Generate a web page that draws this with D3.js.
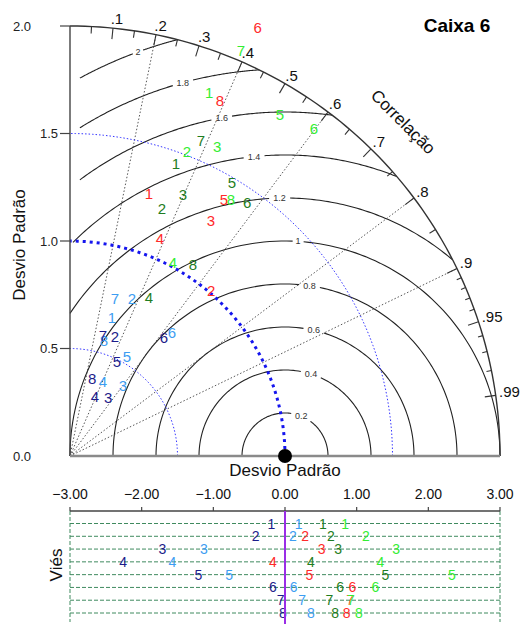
<!DOCTYPE html>
<html><head><meta charset="utf-8">
<script src="https://cdn.jsdelivr.net/npm/d3@7"></script>
<style>body{margin:0;background:#fff} svg{display:block} text{font-family:"Liberation Sans",Arial,Helvetica,sans-serif}</style>
</head><body><svg id="c" width="522" height="624"></svg>
<script>
// ---------------- data ----------------
const modelLabels = ["1","2","3","4","5","6","7","8"];
const seriesColors = ["#3d9df2","#1c1c8a","#ff2a2a","#1f7d22","#33ee33"]; // lightblue, navy, red, darkgreen, lime
// normalized standard deviation per model
const stdLightBlue = [0.671,0.789,0.409,0.377,0.535,0.743,0.764,0.562];
const stdNavy      = [null,0.596,0.323,0.302,0.489,0.702,0.583,0.373];
const stdRed       = [1.273,1.013,1.275,1.093,1.393,2.178,null,1.793];
const stdDarkGreen = [1.445,1.230,1.327,0.822,1.480,1.440,1.587,1.057];
const stdLime      = [1.812,1.515,1.592,1.021,1.863,1.898,2.045,1.407];
// correlation per model
const corrLightBlue = [0.291,0.365,0.603,0.407,0.495,0.638,0.274,0.281];
const corrNavy      = [null,0.351,0.548,0.385,0.447,0.623,0.263,0.275];
const corrRed       = [0.288,0.648,0.514,0.383,0.514,0.401,null,0.389];
const corrDarkGreen = [0.341,0.348,0.396,0.447,0.509,0.572,0.384,0.541];
const corrLime      = [0.357,0.359,0.430,0.469,0.524,0.598,0.389,0.532];
// bias per model
const biasLightBlue = [0.19,0.11,-1.13,-1.57,-0.78,0.12,0.24,0.36];
const biasNavy      = [-0.19,-0.41,-1.71,-2.26,-1.21,-0.17,-0.06,-0.03];
const biasRed       = [null,0.28,0.51,-0.17,0.34,0.94,0.91,0.86];
const biasDarkGreen = [0.53,0.64,0.74,0.36,1.40,0.77,0.62,0.70];
const biasLime      = [0.84,1.13,1.55,1.33,2.33,1.26,0.92,1.03];

const corrMajor = [0.1,0.2,0.3,0.4,0.5,0.6,0.7,0.8,0.9,0.95,0.99];
const corrLabels = [".1",".2",".3",".4",".5",".6",".7",".8",".9",".95",".99"];
const corrMinor = [0.05,0.15,0.25,0.35,0.45,0.55,0.65,0.75,0.85,0.91,0.92,0.93,0.94,0.96,0.97,0.98];
const corrRays = [0.2,0.4,0.6,0.8,0.9];
const rmsLevels = [0.2,0.4,0.6,0.8,1.0,1.2,1.4,1.6,1.8,2.0];
const rmsLabels = ["0.2","0.4","0.6","0.8","1","1.2","1.4","1.6","1.8","2"];
const stdTicks = [0,0.5,1,1.5,2];
const stdTickLabels = ["0.0","0.5","1.0","1.5","2.0"];
const thinStdCircles = [0.5,1.5];
const biasTicks = [-3,-2,-1,0,1,2,3];

// ---------------- drawing ----------------
const svg = d3.select("#c");
const ox = 70, oy = 456;
const S = d3.scaleLinear().domain([0,2]).range([0,430]);
const px = X => ox + S(X), py = Y => oy - S(Y);
const polar = (r,c) => { const th = Math.acos(c); return [px(r*Math.cos(th)), py(r*Math.sin(th))]; };
const line = d3.line();

// RMS contours
rmsLevels.forEach((rr,i)=>{
  const phiMin = rr<=1 ? 0 : Math.acos(Math.max(-1,Math.min(1,(3-rr*rr)/(2*rr))));
  const xmin = rr>=1.6 ? 0.046 : (rr>=1.4 ? 0.014 : 0);
  const phiMax = rr<1 ? Math.PI : Math.acos(Math.max(-1,(xmin-1)/rr));
  const phiL = (63+4.7*(i+1))*Math.PI/180;
  const w = rmsLabels[i].length*5;
  const gap = (w/2+3)/S(rr);
  [[phiMin,phiL-gap],[phiL+gap,phiMax]].forEach(([a,b])=>{
    const pts = d3.range(0,61).map(k=>{const f=a+(b-a)*k/60; return [px(1+rr*Math.cos(f)), py(rr*Math.sin(f))];});
    svg.append("path").attr("d",line(pts)).attr("fill","none").attr("stroke","#222").attr("stroke-width",1.1);
  });
  svg.append("text").attr("x",px(1+rr*Math.cos(phiL))).attr("y",py(rr*Math.sin(phiL)))
    .attr("text-anchor","middle").attr("dominant-baseline","central").attr("font-size",9).attr("fill","#333").text(rmsLabels[i]);
});

// correlation rays
corrRays.forEach(c=>{
  const p = polar(2,c);
  svg.append("line").attr("x1",ox).attr("y1",oy).attr("x2",p[0]).attr("y2",p[1])
    .attr("stroke","#444").attr("stroke-width",0.9).attr("stroke-dasharray","1.5,2");
});

// std reference circles
const quarter = r => line(d3.range(0,91).map(k=>{const t=k*Math.PI/180; return [px(r*Math.cos(t)), py(r*Math.sin(t))];}));
thinStdCircles.forEach(r=>{
  svg.append("path").attr("d",quarter(r)).attr("fill","none").attr("stroke","#3535ff").attr("stroke-width",1).attr("stroke-dasharray","1.5,2");
});
svg.append("path").attr("d",quarter(1)).attr("fill","none").attr("stroke","#1515ee").attr("stroke-width",3).attr("stroke-dasharray","3,4");

// outer arc
svg.append("path").attr("d",quarter(2)).attr("fill","none").attr("stroke","#333").attr("stroke-width",1.4);
// correlation ticks
corrMajor.forEach((c,i)=>{
  const a=polar(2,c), b=polar(2-11/215,c);
  svg.append("line").attr("x1",a[0]).attr("y1",a[1]).attr("x2",b[0]).attr("y2",b[1]).attr("stroke","#333").attr("stroke-width",1.1);
  const l=polar(2.03,c);
  svg.append("text").attr("x",l[0]-3).attr("y",l[1]-3).attr("dominant-baseline","central").attr("font-size",15).attr("fill","#111").text(corrLabels[i]);
});
corrMinor.forEach(c=>{
  const len = c>0.9 ? 5 : 7;
  const a=polar(2,c), b=polar(2-len/215,c);
  svg.append("line").attr("x1",a[0]).attr("y1",a[1]).attr("x2",b[0]).attr("y2",b[1]).attr("stroke","#333").attr("stroke-width",1.1);
});
svg.append("text").attr("transform","translate(403,122) rotate(45)").attr("text-anchor","middle").attr("dominant-baseline","central")
  .attr("font-size",17).attr("fill","#111").text("Correlação");

// axes
svg.append("line").attr("x1",ox).attr("y1",py(2)).attr("x2",ox).attr("y2",oy).attr("stroke","#444").attr("stroke-width",1.4);
svg.append("line").attr("x1",ox).attr("y1",oy).attr("x2",px(2)).attr("y2",oy).attr("stroke","#8a8a8a").attr("stroke-width",2.5);
stdTicks.forEach((t,i)=>{
  if(t>0) svg.append("line").attr("x1",ox-10).attr("y1",py(t)).attr("x2",ox).attr("y2",py(t)).attr("stroke","#444").attr("stroke-width",1.2);
  const edge = (t===0||t===2);
  svg.append("text").attr("x",edge?31:58).attr("y",py(t)).attr("text-anchor","end").attr("dominant-baseline","central")
    .attr("font-size",13).attr("fill","#222").text(stdTickLabels[i]);
});
svg.append("text").attr("transform","translate(19,245) rotate(-90)").attr("text-anchor","middle").attr("dominant-baseline","central")
  .attr("font-size",17).attr("fill","#111").text("Desvio Padrão");
svg.append("text").attr("x",px(1)).attr("y",470).attr("text-anchor","middle").attr("dominant-baseline","central")
  .attr("font-size",17).attr("fill","#111").text("Desvio Padrão");
svg.append("circle").attr("cx",px(1)).attr("cy",oy).attr("r",7).attr("fill","#000");

svg.append("text").attr("x",457).attr("y",25).attr("text-anchor","middle").attr("dominant-baseline","central")
  .attr("font-size",19).attr("font-weight","bold").attr("fill","#000").text("Caixa 6");

// taylor points
const stdSeries = [stdLightBlue,stdNavy,stdRed,stdDarkGreen,stdLime];
const corrSeries = [corrLightBlue,corrNavy,corrRed,corrDarkGreen,corrLime];
const biasSeries = [biasLightBlue,biasNavy,biasRed,biasDarkGreen,biasLime];
stdSeries.forEach((sd,s)=>{
  sd.forEach((v,k)=>{
    if(v==null) return;
    const p = polar(v, corrSeries[s][k]);
    svg.append("text").attr("x",p[0]).attr("y",p[1]).attr("text-anchor","middle").attr("dominant-baseline","central")
      .attr("font-size",15).attr("fill",seriesColors[s]).text(modelLabels[k]);
  });
});

// ---------------- bias panel ----------------
const bx = d3.scaleLinear().domain([-3,3]).range([70,500]);
const by = d3.scaleLinear().domain([1,8]).range([523.5,613]);
const rowColor = "#3f8a5f";
modelLabels.forEach((m,k)=>{
  svg.append("line").attr("x1",bx(-3)).attr("x2",bx(3)).attr("y1",by(k+1)).attr("y2",by(k+1))
    .attr("stroke",rowColor).attr("stroke-width",1).attr("stroke-dasharray","4,2");
});
[-3,3].forEach(v=>{
  svg.append("line").attr("x1",bx(v)).attr("x2",bx(v)).attr("y1",511).attr("y2",622)
    .attr("stroke",rowColor).attr("stroke-width",1).attr("stroke-dasharray","4,2");
});
svg.append("line").attr("x1",bx(-3)).attr("x2",bx(3)).attr("y1",511).attr("y2",511).attr("stroke","#444").attr("stroke-width",1.4);
const fmt = d3.format(".2f");
biasTicks.forEach(t=>{
  svg.append("line").attr("x1",bx(t)).attr("x2",bx(t)).attr("y1",507).attr("y2",511).attr("stroke","#444").attr("stroke-width",1.2);
  svg.append("text").attr("x",bx(t)).attr("y",494).attr("text-anchor","middle").attr("dominant-baseline","central")
    .attr("font-size",14).attr("fill","#111").text(fmt(t));
});
svg.append("text").attr("transform","translate(56,565) rotate(-90)").attr("text-anchor","middle").attr("dominant-baseline","central")
  .attr("font-size",17).attr("fill","#111").text("Viés");
biasSeries.forEach((bs,s)=>{
  bs.forEach((v,k)=>{
    if(v==null) return;
    svg.append("text").attr("x",bx(v)).attr("y",by(k+1)).attr("text-anchor","middle").attr("dominant-baseline","central")
      .attr("font-size",14).attr("fill",seriesColors[s]).text(modelLabels[k]);
  });
});
svg.append("line").attr("x1",bx(0)).attr("x2",bx(0)).attr("y1",511).attr("y2",624).attr("stroke","#9a2ee6").attr("stroke-width",2);
</script>
</body></html>
